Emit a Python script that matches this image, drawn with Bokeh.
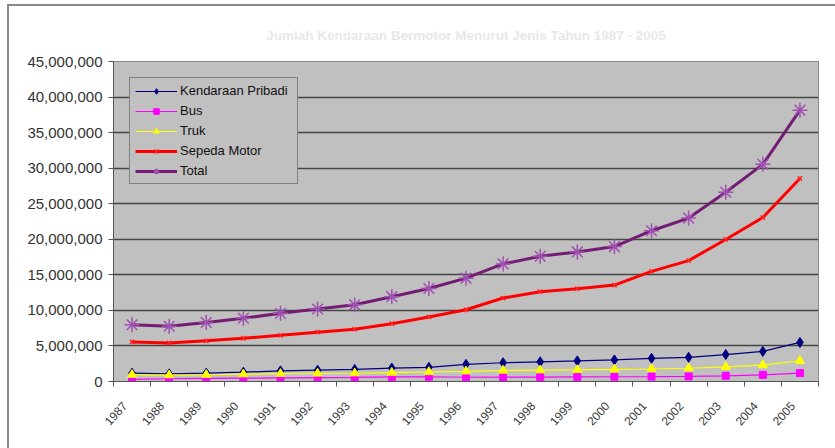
import math
from bokeh.plotting import figure
from bokeh.models import Range1d, FixedTicker, NumeralTickFormatter, Legend, LegendItem
from bokeh.embed import file_html
from bokeh.resources import INLINE

years = ["1987", "1988", "1989", "1990", "1991", "1992", "1993", "1994", "1995", "1996",
         "1997", "1998", "1999", "2000", "2001", "2002", "2003", "2004", "2005"]
pribadi = [1170000, 1073000, 1182000, 1313000, 1495000, 1591000, 1700000, 1890000, 1996000, 2409000,
           2640000, 2769000, 2898000, 3039000, 3262000, 3403000, 3792000, 4232000, 5494000]
bus = [303000, 386000, 435000, 469000, 505000, 540000, 568000, 652000, 669000, 595000,
       611000, 627000, 645000, 666000, 688000, 714000, 798000, 933000, 1185000]
truk = [954000, 893000, 952000, 1024000, 1088000, 1126000, 1161000, 1252000, 1337000, 1435000,
        1548000, 1587000, 1629000, 1707000, 1760000, 1865000, 2047000, 2316000, 2921000]
motor = [5554000, 5420000, 5722000, 6083000, 6495000, 6941000, 7355000, 8135000, 9076000, 10091000,
         11736000, 12629000, 13053000, 13563000, 15492000, 17002000, 19976000, 23056000, 28556000]
total = [7981000, 7771000, 8292000, 8889000, 9582000, 10198000, 10785000, 11929000, 13078000, 14530000,
         16535000, 17612000, 18224000, 18975000, 21201000, 22985000, 26614000, 30537000, 38156000]
series_names = ["Kendaraan Pribadi", "Bus", "Truk", "Sepeda Motor", "Total"]
title_text = "Jumlah Kendaraan Bermotor Menurut Jenis Tahun 1987 - 2005"

x = [i + 0.5 for i in range(len(years))]
label_pos = [i + 0.3 for i in range(len(years))]

FONT = "Liberation Sans"

p = figure(width=828, height=444, output_backend="svg", toolbar_location=None,
           x_range=Range1d(0, len(years)), y_range=Range1d(0, 45000000),
           min_border_left=104, min_border_right=19, min_border_top=55, min_border_bottom=69,
           background_fill_color="#C0C0C0", border_fill_color="white")
p.styles = {"margin-left": "7px", "margin-top": "4px",
            "border-left": "2px solid #8a8a8a", "border-top": "2px solid #8a8a8a"}

p.title.text = title_text
p.title.align = "center"
p.title.text_color = "#e8e8e8"
p.title.text_font = FONT
p.title.text_font_size = "13.5px"
p.title.text_font_style = "bold"
p.title.standoff = 37

p.outline_line_color = "#8a8a8a"
p.outline_line_width = 1

p.xgrid.grid_line_color = None
p.ygrid.grid_line_color = "#454545"
p.ygrid.grid_line_width = 1.6
p.ygrid.ticker = FixedTicker(ticks=list(range(0, 45000001, 5000000)))

# y axis
p.yaxis.ticker = FixedTicker(ticks=list(range(0, 45000001, 5000000)))
p.yaxis.formatter = NumeralTickFormatter(format="0,0")
p.yaxis.major_label_text_font = FONT
p.yaxis.major_label_text_font_size = "15px"
p.yaxis.major_label_text_color = "#333333"
p.yaxis.axis_line_color = "#555555"
p.yaxis.major_tick_line_color = "#555555"
p.yaxis.major_tick_out = 5
p.yaxis.major_tick_in = 0
p.yaxis.minor_tick_line_color = None
p.yaxis.major_label_standoff = 6

# x axis
p.xaxis.ticker = FixedTicker(ticks=label_pos, minor_ticks=list(range(0, len(years) + 1)))
p.xaxis.major_label_overrides = {v: years[i] for i, v in enumerate(label_pos)}
p.xaxis.major_label_orientation = math.radians(48)
p.xaxis.major_label_text_font = FONT
p.xaxis.major_label_text_font_size = "12px"
p.xaxis.major_label_text_color = "#3a3a3a"
p.xaxis.major_tick_line_color = None
p.xaxis.minor_tick_line_color = "#555555"
p.xaxis.minor_tick_out = 5
p.xaxis.minor_tick_in = 0
p.xaxis.axis_line_color = "#555555"
p.xaxis.major_label_standoff = 16

items = []
l1 = p.line(x, pribadi, line_color="#000080", line_width=1.2)
m1 = p.scatter(x, pribadi, marker="diamond", size=10, fill_color="#000080", line_color="#000080")
items.append(LegendItem(label=series_names[0], renderers=[l1, m1]))

l2 = p.line(x, bus, line_color="#FF00FF", line_width=1.2)
m2 = p.scatter(x, bus, marker="square", size=7, fill_color="#FF00FF", line_color="#FF00FF")
items.append(LegendItem(label=series_names[1], renderers=[l2, m2]))

l3 = p.line(x, truk, line_color="#FFFF00", line_width=1.2)
m3 = p.scatter(x, truk, marker="triangle", size=9, fill_color="#FFFF00", line_color="#FFFF00")
items.append(LegendItem(label=series_names[2], renderers=[l3, m3]))

l4 = p.line(x, motor, line_color="#FF0000", line_width=3)
m4 = p.scatter(x, motor, marker="x", size=6, line_color="#FF2020", line_width=1.5)
items.append(LegendItem(label=series_names[3], renderers=[l4, m4]))

l5 = p.line(x, total, line_color="#741C74", line_width=3)
m5 = p.scatter(x, total, marker="asterisk", size=15, line_color="#A050B0", line_width=1.5)
items.append(LegendItem(label=series_names[4], renderers=[l5, m5]))

legend = Legend(items=items, location=(16, 197))
legend.background_fill_color = "#C0C0C0"
legend.background_fill_alpha = 1
legend.border_line_color = "#404040"
legend.border_line_width = 1
legend.label_text_font = FONT
legend.label_text_font_size = "13px"
legend.label_text_color = "#111111"
legend.glyph_width = 42
legend.glyph_height = 14
legend.label_height = 14
legend.label_width = 112
legend.label_standoff = 3
legend.spacing = 5
legend.padding = 5
legend.margin = 0
p.add_layout(legend, "center")

open("out.html", "w").write(file_html(p, INLINE))
